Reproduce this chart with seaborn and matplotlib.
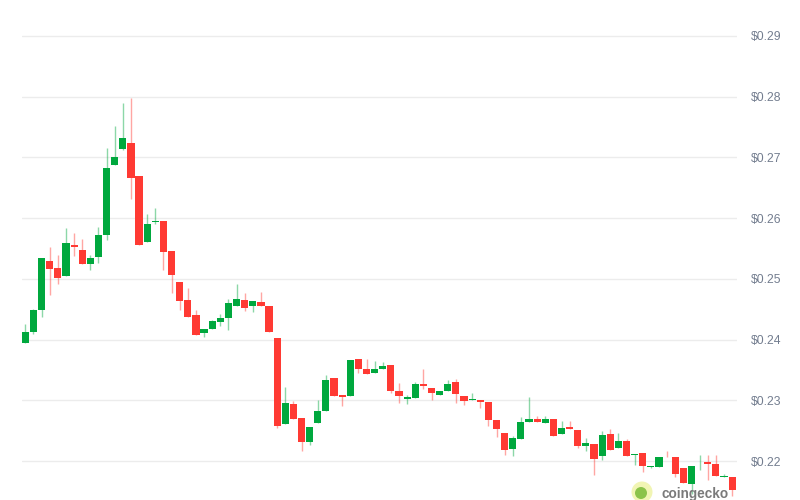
import matplotlib
matplotlib.use("Agg")
import matplotlib.pyplot as plt
from matplotlib.patches import Ellipse
import seaborn as sns
import pandas as pd

# daily candles (USD)
opens = [0.2394, 0.2413, 0.2449, 0.2529, 0.2518, 0.2504, 0.2556, 0.2547, 0.2525, 0.2536,
         0.2572, 0.2688, 0.2713, 0.2724, 0.2670, 0.2561, 0.2593, 0.2595, 0.2546, 0.2495,
         0.2466, 0.2440, 0.2411, 0.2418, 0.2429, 0.2435, 0.2455, 0.2466, 0.2456, 0.2462,
         0.2455, 0.2403, 0.2261, 0.2294, 0.2271, 0.2232, 0.2263, 0.2282, 0.2336, 0.2309,
         0.2307, 0.2368, 0.2352, 0.2345, 0.2352, 0.2359, 0.2315, 0.2303, 0.2304, 0.2327,
         0.2321, 0.2309, 0.2316, 0.2330, 0.2308, 0.2301, 0.2301, 0.2297, 0.2268, 0.2247,
         0.2220, 0.2237, 0.2265, 0.2269, 0.2263, 0.2269, 0.2245, 0.2256, 0.2252, 0.2225,
         0.2228, 0.2208, 0.2245, 0.2221, 0.2233, 0.2210, 0.2214, 0.2190, 0.2191, 0.2207,
         0.2206, 0.2189, 0.2163, 0.2198, 0.2199, 0.2196, 0.2174, 0.2174]
closes = [0.2413, 0.2448, 0.2534, 0.2517, 0.2502, 0.2559, 0.2553, 0.2525, 0.2535, 0.2573,
          0.2683, 0.2701, 0.2732, 0.2666, 0.2555, 0.2591, 0.2596, 0.2544, 0.2507, 0.2464,
          0.2437, 0.2408, 0.2418, 0.2430, 0.2436, 0.2460, 0.2467, 0.2452, 0.2463, 0.2456,
          0.2412, 0.2257, 0.2295, 0.2269, 0.2231, 0.2256, 0.2282, 0.2334, 0.2307, 0.2305,
          0.2367, 0.2351, 0.2344, 0.2352, 0.2357, 0.2316, 0.2308, 0.2305, 0.2327, 0.2323,
          0.2312, 0.2316, 0.2327, 0.2310, 0.2299, 0.2302, 0.2297, 0.2268, 0.2253, 0.2219,
          0.2238, 0.2265, 0.2269, 0.2265, 0.2270, 0.2242, 0.2254, 0.2253, 0.2225, 0.2229,
          0.2203, 0.2243, 0.2218, 0.2233, 0.2208, 0.2212, 0.2192, 0.2192, 0.2206, 0.2206,
          0.2179, 0.2164, 0.2192, 0.2199, 0.2196, 0.2175, 0.2176, 0.2152]
highs = [0.2426, 0.2451, 0.2535, 0.2553, 0.2540, 0.2584, 0.2576, 0.2566, 0.2540, 0.2585,
         0.2715, 0.2751, 0.2789, 0.2797, 0.2670, 0.2607, 0.2616, 0.2595, 0.2546, 0.2495,
         0.2485, 0.2449, 0.2418, 0.2433, 0.2442, 0.2467, 0.2492, 0.2476, 0.2463, 0.2478,
         0.2455, 0.2403, 0.2322, 0.2299, 0.2271, 0.2256, 0.2301, 0.2341, 0.2336, 0.2309,
         0.2367, 0.2368, 0.2368, 0.2364, 0.2363, 0.2359, 0.2329, 0.2309, 0.2331, 0.2352,
         0.2321, 0.2316, 0.2334, 0.2335, 0.2308, 0.2312, 0.2301, 0.2297, 0.2268, 0.2247,
         0.2241, 0.2273, 0.2305, 0.2274, 0.2274, 0.2269, 0.2266, 0.2266, 0.2252, 0.2238,
         0.2228, 0.2249, 0.2253, 0.2246, 0.2236, 0.2212, 0.2214, 0.2192, 0.2206, 0.2216,
         0.2206, 0.2189, 0.2192, 0.2210, 0.2210, 0.2210, 0.2179, 0.2174]
lows = [0.2394, 0.2410, 0.2438, 0.2474, 0.2492, 0.2504, 0.2538, 0.2525, 0.2515, 0.2526,
        0.2564, 0.2688, 0.2712, 0.2632, 0.2555, 0.2561, 0.2590, 0.2514, 0.2477, 0.2449,
        0.2437, 0.2408, 0.2405, 0.2418, 0.2423, 0.2415, 0.2455, 0.2447, 0.2446, 0.2456,
        0.2412, 0.2255, 0.2261, 0.2269, 0.2216, 0.2227, 0.2263, 0.2282, 0.2307, 0.2290,
        0.2307, 0.2345, 0.2344, 0.2345, 0.2352, 0.2312, 0.2296, 0.2294, 0.2304, 0.2318,
        0.2301, 0.2309, 0.2316, 0.2296, 0.2293, 0.2301, 0.2287, 0.2258, 0.2239, 0.2210,
        0.2208, 0.2237, 0.2265, 0.2265, 0.2263, 0.2242, 0.2245, 0.2253, 0.2221, 0.2216,
        0.2177, 0.2202, 0.2218, 0.2221, 0.2208, 0.2194, 0.2182, 0.2188, 0.2191, 0.2206,
        0.2174, 0.2164, 0.2146, 0.2186, 0.2169, 0.2175, 0.2174, 0.2143]
price_ticks = [0.22, 0.23, 0.24, 0.25, 0.26, 0.27, 0.28, 0.29]

UP = "#00a83e"
DOWN = "#ff3a33"

df = pd.DataFrame({"open": opens, "high": highs, "low": lows, "close": closes})
df["day"] = range(len(df))
df["up"] = df["close"] >= df["open"]
df["color"] = df["up"].map({True: UP, False: DOWN})
df["bottom"] = df[["open", "close"]].min(axis=1)
# keep doji candles visible
df["height"] = (df["close"] - df["open"]).abs().clip(lower=0.00005)

sns.set_theme(style="white")
plt.rcParams["font.family"] = ["Liberation Sans", "DejaVu Sans"]

fig = plt.figure(figsize=(8, 5), dpi=100)
ax = fig.add_axes([22 / 800, 0, 715 / 800, 1])

# wicks, then bodies
ax.vlines(df["day"], df["low"], df["high"], colors=df["color"], linewidth=1, alpha=0.45, zorder=2)
ax.bar(df["day"], df["height"], bottom=df["bottom"], width=0.88, color=df["color"],
       linewidth=0, zorder=3)

ax.set_xlim(-0.41, 87.6)
ax.set_ylim(0.2136, 0.2959)
ax.set_yticks(price_ticks)
ax.set_yticklabels([f"${p:.2f}" for p in price_ticks])
ax.yaxis.tick_right()
ax.tick_params(axis="y", length=0, pad=10, labelsize=8.7, labelcolor="#737d8f")
ax.set_xticks([])
ax.grid(axis="y", color="#ececec", linewidth=1, zorder=0)
sns.despine(ax=ax, left=True, right=True, top=True, bottom=True)

# watermark
fig.add_artist(Ellipse((642 / 800, 8 / 500), 21 / 800, 21 / 500, transform=fig.transFigure,
                       facecolor="#f1f5b4", edgecolor="none", zorder=5))
fig.add_artist(Ellipse((641 / 800, 7 / 500), 12 / 800, 12 / 500, transform=fig.transFigure,
                       facecolor="#8bc34a", edgecolor="none", zorder=6))
fig.text(661 / 800, 6 / 500, "coingecko", fontsize=9.8, fontweight="bold", color="#7a7a7a",
         va="center", ha="left", zorder=7)

fig.savefig("out.png", dpi=100, facecolor="white")
